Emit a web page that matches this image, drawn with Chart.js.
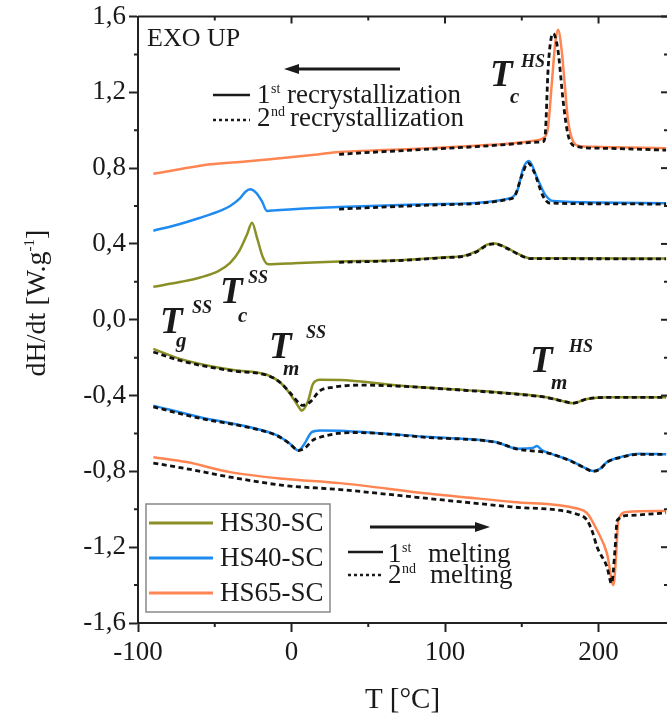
<!DOCTYPE html>
<html>
<head>
<meta charset="utf-8">
<title>DSC HS-SC</title>
<script src="https://cdn.jsdelivr.net/npm/chart.js@4.4.0/dist/chart.umd.min.js"></script>
<style>
  html, body { margin: 0; padding: 0; background: #fff; overflow: hidden; }
  #dsc { display: block; }
</style>
</head>
<body>
<canvas id="dsc" width="667" height="722"></canvas>
<script>
const SERIF = "'Liberation Serif', 'Times New Roman', serif";

const seriesNames = ['HS30-SC', 'HS40-SC', 'HS65-SC'];
const seriesColors = ['#8a9026', '#1f8bf0', '#ff8552'];

// cooling runs (recrystallization), T in °C, dH/dt in W/g
const hs30CoolT = [-90, -72, -59.6, -48, -40, -34, -29, -25.7, -22.5, -18.6, -15.3, 5, 31, 69, 100, 112, 121, 127, 132.6, 140, 149, 155, 180, 244];
const hs30CoolV = [0.174, 0.2, 0.223, 0.255, 0.3, 0.363, 0.45, 0.512, 0.433, 0.328, 0.293, 0.3, 0.307, 0.314, 0.33, 0.337, 0.363, 0.395, 0.402, 0.38, 0.342, 0.325, 0.324, 0.323];
const hs30Cool2T = [31, 69, 100, 112, 121, 127, 132.6, 140, 149, 155, 180, 244];
const hs30Cool2V = [0.303, 0.312, 0.328, 0.335, 0.36, 0.392, 0.4, 0.378, 0.34, 0.323, 0.322, 0.321];

const hs40CoolT = [-90, -75, -60, -45, -40, -33.6, -30, -27, -23, -19.3, -16, -10, 31, 90, 142, 147, 151, 154.7, 160, 165, 170.5, 200, 244];
const hs40CoolV = [0.47, 0.5, 0.537, 0.58, 0.6, 0.64, 0.675, 0.688, 0.67, 0.626, 0.574, 0.578, 0.595, 0.61, 0.64, 0.68, 0.8, 0.837, 0.748, 0.663, 0.626, 0.618, 0.615];
const hs40Cool2T = [31, 90, 142, 145.6, 150, 154, 158, 163.8, 168, 200, 244];
const hs40Cool2V = [0.584, 0.605, 0.637, 0.655, 0.76, 0.826, 0.78, 0.653, 0.616, 0.612, 0.61];

const hs65CoolT = [-90, -72, -53, -30, -14, 12, 31, 60, 90, 120, 142, 158, 164, 167, 169.5, 171.7, 173.6, 176, 178, 180, 183.5, 188, 200, 244];
const hs65CoolV = [0.77, 0.795, 0.82, 0.835, 0.847, 0.868, 0.885, 0.895, 0.905, 0.918, 0.93, 0.945, 0.958, 1.01, 1.24, 1.45, 1.53, 1.42, 1.24, 1.06, 0.94, 0.916, 0.912, 0.905];
const hs65Cool2T = [31, 60, 90, 120, 142, 160, 164, 165.3, 167.2, 169, 170.5, 173.6, 177, 180, 184.6, 201, 244];
const hs65Cool2V = [0.873, 0.887, 0.9, 0.913, 0.926, 0.937, 0.94, 0.98, 1.33, 1.48, 1.51, 1.42, 1.15, 0.98, 0.916, 0.905, 0.895];

// heating runs (melting)
const hs30HeatT = [-90, -72.6, -59.6, -38, -16, -7.5, -1, 5.5, 6.6, 10.9, 14, 18.6, 31.6, 69, 112, 147, 166, 177, 183.4, 192.5, 205.5, 244];
const hs30HeatV = [-0.154, -0.207, -0.233, -0.265, -0.29, -0.33, -0.39, -0.47, -0.48, -0.426, -0.338, -0.317, -0.318, -0.347, -0.37, -0.391, -0.409, -0.43, -0.44, -0.418, -0.409, -0.409];
const hs30Heat2T = [-90, -72.6, -59.6, -38, -16, -7.5, -1, 5.5, 7, 12, 18.6, 27, 45, 69, 112, 147, 166, 177, 183.4, 192.5, 205.5, 244];
const hs30Heat2V = [-0.17, -0.215, -0.24, -0.27, -0.293, -0.33, -0.385, -0.445, -0.452, -0.435, -0.374, -0.356, -0.345, -0.35, -0.372, -0.393, -0.41, -0.43, -0.44, -0.418, -0.41, -0.41];

const hs40HeatT = [-90, -59.6, -27, -9.4, -1, 4.4, 8, 13.2, 18.6, 31.6, 90, 133.6, 147, 157, 160, 163, 166.4, 181.5, 190, 196.4, 201, 205.5, 214, 227, 244];
const hs40HeatV = [-0.453, -0.514, -0.567, -0.61, -0.654, -0.69, -0.66, -0.593, -0.584, -0.586, -0.619, -0.646, -0.68, -0.677, -0.666, -0.688, -0.7, -0.742, -0.777, -0.798, -0.786, -0.751, -0.725, -0.707, -0.71];
const hs40Heat2T = [-90, -59.6, -27, -9.4, -1, 4.4, 9, 14, 18.6, 30, 40, 90, 133.6, 147, 166.4, 181.5, 190, 196.4, 201, 205.5, 214, 227, 244];
const hs40Heat2V = [-0.46, -0.52, -0.57, -0.612, -0.655, -0.69, -0.675, -0.635, -0.62, -0.6, -0.595, -0.622, -0.648, -0.682, -0.702, -0.744, -0.778, -0.8, -0.788, -0.752, -0.727, -0.71, -0.71];

const hs65HeatT = [-90, -68.3, -40, -5.3, 31.6, 90, 144.3, 186, 192.5, 199, 205.5, 209.7, 211.4, 212.9, 218.4, 244];
const hs65HeatV = [-0.725, -0.751, -0.804, -0.839, -0.862, -0.918, -0.961, -0.996, -1.02, -1.11, -1.233, -1.4, -1.25, -1.058, -1.014, -1.009];
const hs65Heat2T = [-90, -68.3, -40, -5.3, 31.6, 90, 144.3, 186, 192.5, 196.4, 199, 205.5, 208.5, 210.7, 212.2, 220.5, 244];
const hs65Heat2V = [-0.756, -0.786, -0.83, -0.874, -0.896, -0.944, -0.988, -1.026, -1.058, -1.128, -1.198, -1.304, -1.391, -1.216, -1.058, -1.032, -1.019];

const toPoints = (ts, vs) => ts.map((t, i) => ({ x: t, y: vs[i] }));

const solid = (idx, ts, vs) => ({
  label: seriesNames[idx],
  data: toPoints(ts, vs),
  borderColor: seriesColors[idx],
  borderWidth: 2.5,
  pointRadius: 0,
  cubicInterpolationMode: 'monotone',
  order: 2
});

const dashed = (idx, ts, vs) => ({
  label: seriesNames[idx] + ' (2nd)',
  data: toPoints(ts, vs),
  borderColor: '#111',
  borderWidth: 2.8,
  borderDash: [5, 3.5],
  pointRadius: 0,
  cubicInterpolationMode: 'monotone',
  order: 1
});

const isMajorY = v => Math.round(v * 10) % 4 === 0;
const isMajorX = v => Math.round(v) % 100 === 0;

const font = (size, style) => `${style || ''} ${size}px ${SERIF}`;

// text annotations (pixel positions, alphabetic baseline)
const notes = [
  ['EXO UP', font(26), 147, 46],
  ['1', font(27), 257, 103], ['st', font(14), 271, 93], ['recrystallization', font(27), 287, 103],
  ['2', font(27), 257, 126], ['nd', font(14), 271, 116], ['recrystallization', font(27), 290, 126],
  ['1', font(27), 388, 562], ['st', font(14), 402, 552], ['melting', font(27), 428, 562],
  ['2', font(27), 388, 583], ['nd', font(14), 402, 573], ['melting', font(27), 430, 583],
  ['T', font(37, 'italic bold'), 490, 86], ['c', font(21, 'italic bold'), 510, 103], ['HS', font(18, 'italic bold'), 521, 67],
  ['T', font(37, 'italic bold'), 160, 333], ['g', font(21, 'italic bold'), 176, 347], ['SS', font(18, 'italic bold'), 192, 313],
  ['T', font(37, 'italic bold'), 220, 303], ['c', font(21, 'italic bold'), 238, 322], ['SS', font(18, 'italic bold'), 248, 283],
  ['T', font(37, 'italic bold'), 269, 358], ['m', font(21, 'italic bold'), 283, 375], ['SS', font(18, 'italic bold'), 306, 338],
  ['T', font(37, 'italic bold'), 530, 372], ['m', font(21, 'italic bold'), 551, 389], ['HS', font(18, 'italic bold'), 569, 352]
];

const arrow = (ctx, x1, x2, y) => {
  const dir = Math.sign(x2 - x1);
  ctx.lineWidth = 3;
  ctx.beginPath();
  ctx.moveTo(x1, y);
  ctx.lineTo(x2 - dir * 10, y);
  ctx.stroke();
  ctx.beginPath();
  ctx.moveTo(x2, y);
  ctx.lineTo(x2 - dir * 15, y - 5);
  ctx.lineTo(x2 - dir * 15, y + 5);
  ctx.closePath();
  ctx.fill();
};

const decorPlugin = {
  id: 'decor',
  afterDraw(chart) {
    const { ctx, chartArea: a, scales: { x, y } } = chart;
    ctx.save();
    ctx.strokeStyle = '#222';
    ctx.fillStyle = '#1a1a1a';
    ctx.lineWidth = 2;

    // top frame and inner ticks
    ctx.beginPath();
    ctx.moveTo(a.left, a.top);
    ctx.lineTo(a.right, a.top);
    ctx.stroke();
    x.ticks.forEach(t => {
      const px = x.getPixelForValue(t.value);
      const major = isMajorX(t.value);
      ctx.beginPath();
      ctx.moveTo(px, a.top);
      ctx.lineTo(px, a.top + (major ? 7 : 4));
      if (!major) {
        ctx.moveTo(px, a.bottom);
        ctx.lineTo(px, a.bottom + 4);
      }
      ctx.stroke();
    });
    y.ticks.forEach(t => {
      const py = y.getPixelForValue(t.value);
      const major = isMajorY(t.value);
      ctx.beginPath();
      ctx.moveTo(a.right, py);
      ctx.lineTo(a.right - (major ? 6 : 3), py);
      if (!major) {
        ctx.moveTo(a.left, py);
        ctx.lineTo(a.left - 4, py);
      }
      ctx.stroke();
    });

    // y axis title
    ctx.save();
    ctx.translate(45, 303);
    ctx.rotate(-Math.PI / 2);
    ctx.textBaseline = 'alphabetic';
    const runs = [['dH/dt [W.g', font(28), 0], ['-1', font(15), -11], [']', font(28), 0]];
    let total = 0;
    runs.forEach(r => { ctx.font = r[1]; r.push(ctx.measureText(r[0]).width); total += r[3]; });
    let cx = -total / 2;
    runs.forEach(r => { ctx.font = r[1]; ctx.fillText(r[0], cx, r[2]); cx += r[3]; });
    ctx.restore();

    // legend box for the three samples
    ctx.strokeStyle = '#888';
    ctx.lineWidth = 1.5;
    ctx.strokeRect(146, 504, 184, 108);
    seriesNames.forEach((name, i) => {
      const ly = 523 + i * 35;
      ctx.strokeStyle = seriesColors[i];
      ctx.lineWidth = 3;
      ctx.beginPath();
      ctx.moveTo(149, ly);
      ctx.lineTo(213, ly);
      ctx.stroke();
      ctx.font = font(27);
      ctx.textBaseline = 'middle';
      ctx.fillText(name, 220, ly + 1);
    });

    // run-type keys and arrows
    ctx.strokeStyle = '#1a1a1a';
    arrow(ctx, 400, 284, 69);
    arrow(ctx, 370, 490, 527);
    ctx.lineWidth = 2.5;
    [[213, 250, 95, false], [213, 250, 120, true], [348, 383, 552, false], [348, 383, 575, true]].forEach(k => {
      ctx.setLineDash(k[3] ? [3, 3] : []);
      ctx.beginPath();
      ctx.moveTo(k[0], k[2]);
      ctx.lineTo(k[1], k[2]);
      ctx.stroke();
    });
    ctx.setLineDash([]);

    ctx.textBaseline = 'alphabetic';
    ctx.textAlign = 'left';
    notes.forEach(n => {
      ctx.font = n[1];
      ctx.fillText(n[0], n[2], n[3]);
    });
    ctx.restore();
  }
};

new Chart(document.getElementById('dsc'), {
  type: 'line',
  data: {
    datasets: [
      solid(0, hs30CoolT, hs30CoolV), dashed(0, hs30Cool2T, hs30Cool2V),
      solid(1, hs40CoolT, hs40CoolV), dashed(1, hs40Cool2T, hs40Cool2V),
      solid(2, hs65CoolT, hs65CoolV), dashed(2, hs65Cool2T, hs65Cool2V),
      solid(0, hs30HeatT, hs30HeatV), dashed(0, hs30Heat2T, hs30Heat2V),
      solid(1, hs40HeatT, hs40HeatV), dashed(1, hs40Heat2T, hs40Heat2V),
      solid(2, hs65HeatT, hs65HeatV), dashed(2, hs65Heat2T, hs65Heat2V)
    ]
  },
  options: {
    responsive: false,
    animation: false,
    devicePixelRatio: 1,
    layout: { padding: { top: 15, right: 0, left: 0, bottom: 0 } },
    plugins: { legend: { display: false }, tooltip: { enabled: false } },
    scales: {
      x: {
        type: 'linear',
        min: -100,
        max: 244.6,
        afterFit: s => { s.height = 99; },
        border: { display: true, color: '#222', width: 2 },
        grid: {
          drawOnChartArea: false,
          drawTicks: true,
          tickLength: 9,
          tickWidth: 2,
          tickColor: c => (c.tick && isMajorX(c.tick.value) ? '#222' : 'rgba(0,0,0,0)')
        },
        ticks: {
          stepSize: 50,
          includeBounds: false,
          autoSkip: false,
          maxRotation: 0,
          padding: 7,
          color: '#1a1a1a',
          font: { family: SERIF, size: 27, lineHeight: 1 },
          callback: v => (isMajorX(v) ? String(Math.round(v)) : '')
        },
        title: {
          display: true,
          text: 'T [°C]',
          color: '#1a1a1a',
          font: { family: SERIF, size: 29 },
          padding: { top: 0, bottom: 4 }
        }
      },
      y: {
        min: -1.6,
        max: 1.6,
        afterFit: s => { s.width = 138; },
        border: { display: true, color: '#222', width: 2 },
        grid: {
          drawOnChartArea: false,
          drawTicks: true,
          tickLength: 9,
          tickWidth: 2,
          tickColor: c => (c.tick && isMajorY(c.tick.value) ? '#222' : 'rgba(0,0,0,0)')
        },
        ticks: {
          stepSize: 0.2,
          includeBounds: false,
          autoSkip: false,
          padding: 3,
          color: '#1a1a1a',
          font: { family: SERIF, size: 27, lineHeight: 1 },
          callback: v => {
            const k = Math.round(v * 10);
            return k % 4 === 0 ? (k / 10).toFixed(1).replace('.', ',') : '';
          }
        },
        title: { display: false }
      }
    }
  },
  plugins: [decorPlugin]
});
</script>
</body>
</html>
